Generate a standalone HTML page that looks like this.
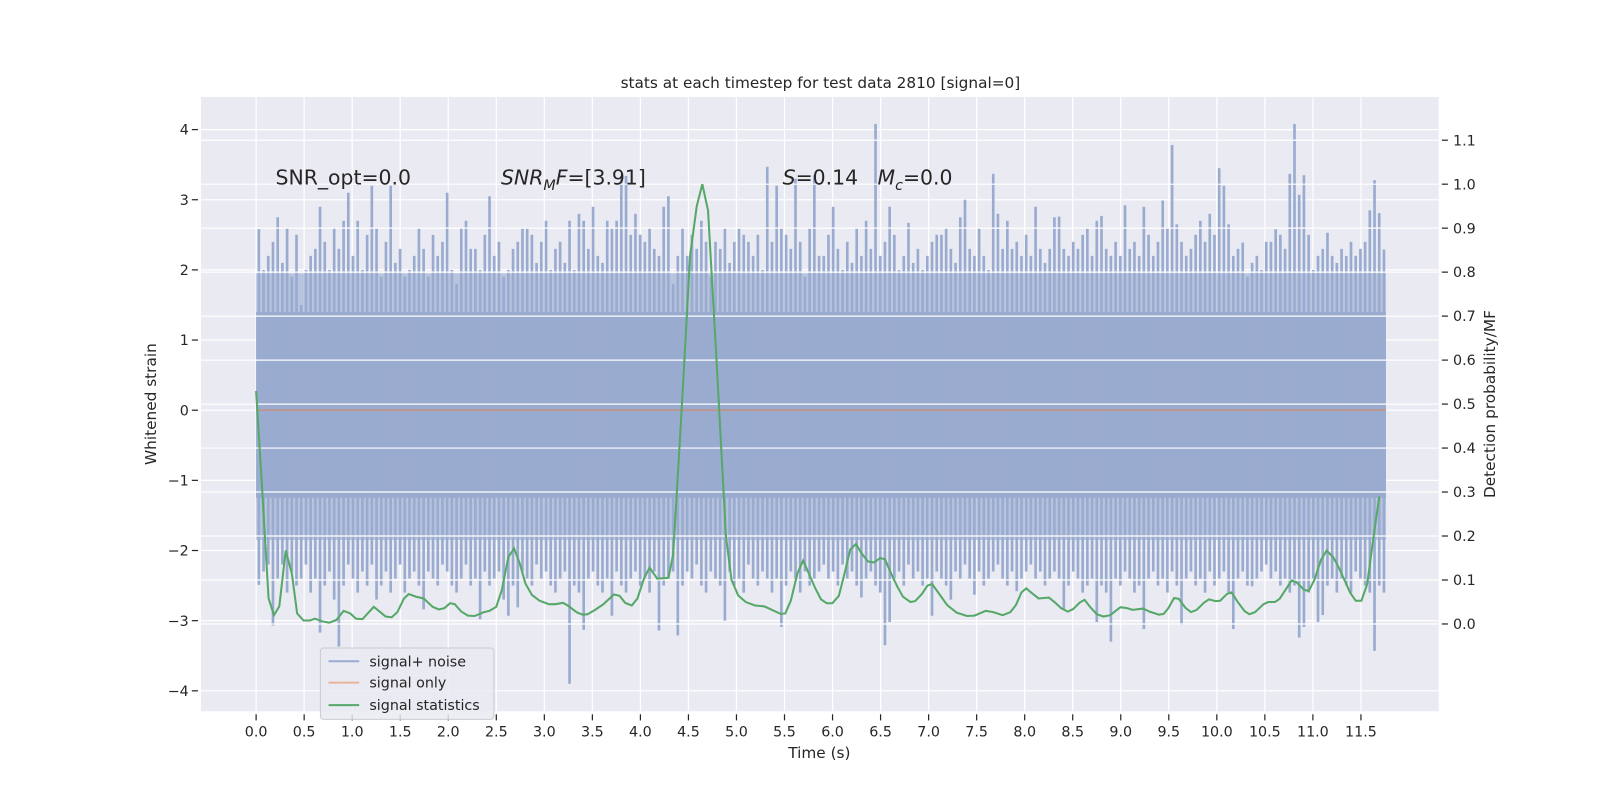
<!DOCTYPE html>
<html><head><meta charset="utf-8"><style>
html,body{margin:0;padding:0;background:#fff;width:1600px;height:800px;overflow:hidden;}
svg{display:block;}
svg text{font-family:"DejaVu Sans","Liberation Sans",sans-serif;fill:#262626;}
</style></head>
<body>
<svg id="chart" width="1600" height="800" viewBox="0 0 1600 800" xmlns="http://www.w3.org/2000/svg">
<rect x="0" y="0" width="1600" height="800" fill="#fff"/>
<g transform="scale(1.0204)">
<rect x="197" y="95" width="1213" height="602" fill="#eaeaf2"/>
<g id="gridL"></g>
<g id="gridX"></g>
<g id="noise"></g>
<line id="sigOnly" stroke="#dd8452" stroke-opacity="0.6" stroke-width="1.5"/>
<g id="gridR"></g>
<polyline id="stat" fill="none" stroke="#55a868" stroke-width="2"/>
<g id="axes"></g>
<text x="804" y="86" font-size="15" text-anchor="middle">stats at each timestep for test data 2810 [signal=0]</text>
<text x="270" y="181" font-size="20">SNR_opt=0.0</text>
<text x="491" y="181" font-size="20"><tspan font-style="italic">SNR</tspan><tspan font-style="italic" font-size="14" dy="5">M</tspan><tspan font-style="italic" dy="-5">F</tspan>=[3.91]</text>
<text x="767" y="181" font-size="20"><tspan font-style="italic">S</tspan>=0.14</text>
<text x="860" y="181" font-size="20"><tspan font-style="italic">M</tspan><tspan font-style="italic" font-size="14" dy="5">c</tspan><tspan dy="-5">=0.0</tspan></text>
<text x="803" y="743" font-size="15" text-anchor="middle">Time (s)</text>
<text x="153" y="396" font-size="15" text-anchor="middle" transform="rotate(-90 153 396)">Whitened strain</text>
<text x="1465" y="396" font-size="15" text-anchor="middle" transform="rotate(-90 1465 396)">Detection probability/MF</text>
<g>
<rect x="314" y="635" width="170" height="70" rx="3" fill="#eaeaf2" fill-opacity="0.85" stroke="#cccccc"/>
<line x1="322" y1="648" x2="352" y2="648" stroke="#9aabd0" stroke-width="2"/>
<text x="362" y="653" font-size="14">signal+ noise</text>
<line x1="322" y1="669" x2="352" y2="669" stroke="#e8b49a" stroke-width="2"/>
<text x="362" y="674" font-size="14">signal only</text>
<line x1="322" y1="691" x2="352" y2="691" stroke="#55a868" stroke-width="2"/>
<text x="362" y="696" font-size="14">signal statistics</text>
</g>
</g>
</svg>
<script>
const noiseStep = 0.049;
const noiseTop = [
2.58,2.0,2.2,2.4,2.75,2.1,2.6,1.9,2.5,1.5,
2.0,2.2,2.3,2.9,2.4,2.0,2.6,2.3,2.7,3.1,
2.2,2.7,2.0,2.5,3.2,2.6,1.9,2.4,3.2,2.1,
2.3,1.9,2.0,2.2,2.6,2.3,1.9,2.5,2.2,2.4,
3.1,2.0,1.8,2.6,2.7,2.3,2.3,2.0,2.5,3.05,
2.2,2.4,1.9,2.0,2.3,2.4,2.6,2.6,2.5,2.1,
2.4,2.7,2.0,2.3,2.4,2.1,2.7,2.0,2.8,2.7,
2.3,2.9,2.2,2.1,2.7,2.6,2.7,3.34,3.34,2.5,
2.8,2.5,2.4,2.6,2.3,2.2,2.9,3.05,1.8,2.2,
2.6,2.2,2.5,2.3,2.7,2.4,1.9,2.4,2.3,2.6,
2.1,2.4,2.6,2.5,2.4,2.2,2.5,2.0,3.47,2.4,
3.2,2.6,2.5,2.3,3.3,2.4,1.9,2.6,3.35,2.2,
2.2,2.5,2.9,2.3,2.0,2.4,2.1,2.6,2.2,2.7,
2.3,4.08,2.2,2.4,2.9,2.5,2.0,2.2,2.67,2.1,
2.3,2.0,2.2,2.4,2.5,2.5,2.6,2.3,2.1,2.75,
3.0,2.3,2.2,2.6,2.2,2.0,3.37,2.8,2.3,2.7,
2.3,2.4,2.2,2.5,2.2,2.9,2.3,2.1,2.3,2.75,
2.76,2.3,2.2,2.4,2.3,2.5,2.6,2.2,2.7,2.77,
2.3,2.2,2.4,2.2,2.92,2.3,2.4,2.2,2.9,2.5,
2.2,2.4,2.99,2.6,3.78,2.65,2.4,2.2,2.3,2.5,
2.7,2.4,2.8,2.5,3.45,3.2,2.65,2.2,2.3,2.39,
1.9,2.1,2.2,2.0,2.4,2.4,2.58,2.5,2.3,3.37,
4.08,3.07,3.35,2.5,2.0,2.2,2.3,2.53,2.2,2.1,
2.3,2.2,2.4,2.2,2.3,2.4,2.85,3.28,2.81,2.29];
const noiseBottom = [
-2.49,-2.3,-2.2,-3.07,-2.4,-2.2,-2.6,-2.3,-2.5,-2.4,
-2.2,-2.6,-2.4,-3.17,-2.5,-2.3,-2.7,-3.37,-2.5,-2.2,
-2.4,-2.6,-2.3,-2.5,-2.2,-2.7,-2.5,-2.3,-2.6,-2.4,
-2.2,-2.6,-2.4,-2.3,-2.5,-2.84,-2.3,-2.4,-2.5,-2.2,
-2.3,-2.5,-2.6,-2.4,-2.2,-2.5,-2.4,-2.98,-2.3,-2.5,
-2.4,-2.3,-2.7,-2.93,-2.5,-2.81,-2.3,-2.4,-2.5,-2.2,
-2.4,-2.3,-2.5,-2.6,-2.4,-2.3,-3.9,-2.5,-2.6,-3.13,
-2.4,-2.3,-2.5,-2.6,-2.4,-2.93,-2.3,-2.5,-2.6,-2.4,
-2.3,-2.5,-2.4,-2.6,-2.3,-3.14,-2.5,-2.4,-2.3,-3.21,
-2.5,-2.3,-2.4,-2.2,-2.5,-2.6,-2.3,-2.4,-2.5,-3.0,
-2.3,-2.5,-2.4,-2.6,-2.2,-2.4,-2.5,-2.3,-2.4,-2.6,
-2.4,-3.09,-2.5,-2.3,-2.4,-2.6,-2.3,-2.5,-2.4,-2.3,
-2.2,-2.4,-2.3,-2.5,-2.2,-2.4,-2.3,-2.5,-2.67,-2.4,
-2.3,-2.5,-2.6,-3.35,-3.02,-2.4,-2.3,-2.5,-2.2,-2.4,
-2.3,-2.5,-2.4,-2.93,-2.3,-2.4,-2.5,-2.7,-2.3,-2.4,
-2.2,-2.4,-2.63,-2.3,-2.5,-2.4,-2.3,-2.2,-2.4,-2.5,
-2.3,-2.58,-2.4,-2.3,-2.2,-2.4,-2.3,-2.5,-2.4,-2.3,
-2.4,-2.83,-2.5,-2.3,-2.4,-2.6,-2.5,-2.4,-3.02,-2.5,
-2.6,-3.3,-2.4,-2.5,-2.3,-2.4,-2.6,-2.5,-3.12,-2.4,
-2.3,-2.5,-2.4,-2.6,-2.3,-2.5,-3.06,-2.4,-2.3,-2.5,
-2.4,-2.6,-2.3,-2.5,-2.4,-2.3,-2.6,-3.12,-2.4,-2.3,
-2.5,-2.51,-2.4,-2.3,-2.2,-2.4,-2.3,-2.5,-2.4,-2.6,
-2.5,-3.24,-3.09,-2.6,-2.4,-3.02,-2.92,-2.5,-2.4,-2.6,
-2.4,-2.5,-2.6,-2.3,-2.4,-2.5,-2.6,-3.43,-2.5,-2.6];
const noiseSolidBand = [-1.25, 1.4];
const noiseDenseBand = [-1.85, 1.95];
const signalOnly = [0, 0];
const statT = [0,0.056,0.130,0.186,0.241,0.308,0.372,0.427,0.494,0.559,0.613,0.686,0.761,0.835,0.911,0.98,1.039,1.107,1.225,1.348,1.411,1.47,1.539,1.588,1.666,1.744,1.838,1.901,1.96,2.019,2.068,2.136,2.205,2.274,2.372,2.43,2.499,2.558,2.626,2.685,2.744,2.803,2.871,2.95,3.048,3.116,3.195,3.244,3.342,3.401,3.45,3.528,3.616,3.724,3.783,3.842,3.91,3.969,4.038,4.096,4.175,4.292,4.341,4.43,4.518,4.586,4.645,4.704,4.792,4.89,4.949,5.018,5.096,5.194,5.292,5.39,5.459,5.508,5.566,5.635,5.694,5.753,5.821,5.88,5.939,5.998,6.066,6.125,6.184,6.243,6.301,6.37,6.429,6.497,6.546,6.615,6.674,6.733,6.811,6.86,6.929,6.987,7.036,7.105,7.193,7.291,7.399,7.477,7.595,7.673,7.771,7.85,7.909,7.967,8.016,8.075,8.144,8.252,8.31,8.379,8.448,8.506,8.575,8.624,8.683,8.751,8.82,8.889,8.996,9.065,9.124,9.232,9.3,9.398,9.447,9.496,9.555,9.604,9.673,9.731,9.79,9.869,9.918,9.986,10.035,10.104,10.153,10.221,10.29,10.339,10.398,10.486,10.535,10.604,10.653,10.78,10.829,10.907,10.956,11.015,11.084,11.143,11.211,11.27,11.329,11.388,11.446,11.505,11.564,11.633,11.691];
const statV = [0.53,0.33,0.058,0.02,0.04,0.167,0.115,0.024,0.008,0.008,0.012,0.006,0.003,0.009,0.03,0.024,0.012,0.011,0.039,0.017,0.015,0.027,0.058,0.068,0.062,0.058,0.039,0.033,0.036,0.047,0.045,0.028,0.019,0.018,0.027,0.03,0.039,0.077,0.152,0.172,0.138,0.092,0.066,0.053,0.045,0.045,0.048,0.042,0.026,0.021,0.022,0.032,0.045,0.067,0.064,0.048,0.042,0.058,0.104,0.128,0.103,0.105,0.158,0.49,0.84,0.95,1.0,0.94,0.60,0.2,0.10,0.065,0.05,0.042,0.04,0.03,0.023,0.024,0.053,0.115,0.144,0.115,0.081,0.056,0.047,0.047,0.064,0.115,0.169,0.182,0.161,0.142,0.14,0.15,0.147,0.112,0.085,0.062,0.05,0.052,0.068,0.087,0.091,0.07,0.043,0.026,0.018,0.019,0.03,0.027,0.02,0.027,0.043,0.072,0.081,0.07,0.058,0.06,0.05,0.036,0.028,0.034,0.049,0.055,0.038,0.022,0.017,0.02,0.038,0.036,0.032,0.035,0.028,0.021,0.023,0.036,0.059,0.057,0.037,0.027,0.032,0.049,0.056,0.052,0.053,0.068,0.072,0.049,0.029,0.022,0.027,0.045,0.05,0.05,0.057,0.099,0.095,0.078,0.075,0.1,0.146,0.167,0.152,0.128,0.1,0.071,0.053,0.053,0.09,0.2,0.29];
const xTicks = [0,0.5,1,1.5,2,2.5,3,3.5,4,4.5,5,5.5,6,6.5,7,7.5,8,8.5,9,9.5,10,10.5,11,11.5];
const xTickLabels = ["0.0","0.5","1.0","1.5","2.0","2.5","3.0","3.5","4.0","4.5","5.0","5.5","6.0","6.5","7.0","7.5","8.0","8.5","9.0","9.5","10.0","10.5","11.0","11.5"];
const yLeftTicks = [4,3,2,1,0,-1,-2,-3,-4];
const yLeftLabels = ["4","3","2","1","0","\u22121","\u22122","\u22123","\u22124"];
const yRightTicks = [1.1,1.0,0.9,0.8,0.7,0.6,0.5,0.4,0.3,0.2,0.1,0.0];
const yRightLabels = ["1.1","1.0","0.9","0.8","0.7","0.6","0.5","0.4","0.3","0.2","0.1","0.0"];

const NS = "http://www.w3.org/2000/svg";
const X0 = 197, X1 = 1410, Y0 = 95, Y1 = 697;
function xs(t){ return 251 + t * 94.15; }
function yl(v){ return 402 - v * 68.75; }
function yr(p){ return 611.5 - p * 431; }
function mk(tag, attrs, parent){
  const e = document.createElementNS(NS, tag);
  for (const k in attrs) e.setAttribute(k, attrs[k]);
  parent.appendChild(e);
  return e;
}
const gridL = document.getElementById('gridL');
const gridX = document.getElementById('gridX');
const gridR = document.getElementById('gridR');
const axes = document.getElementById('axes');
const noise = document.getElementById('noise');

xTicks.forEach((t, i) => {
  const x = xs(t);
  const g = mk('line', {x1:x, x2:x, y1:Y0, y2:Y1, stroke:'#fff', 'stroke-width':1.2}, gridX);
  
  
  const tk = mk('line', {x1:x, x2:x, y1:Y1+3, y2:Y1+9, stroke:'#262626', 'stroke-width':1.2}, axes);
  
  
  const lb = mk('text', {x:x, y:Y1+25, 'font-size':14, 'text-anchor':'middle'}, axes);
  lb.textContent = xTickLabels[i];
  
  
});
yLeftTicks.forEach((v, i) => {
  const y = yl(v);
  const g = mk('line', {x1:X0, x2:X1, y1:y, y2:y, stroke:'#fff', 'stroke-width':1.2}, gridL);
  
  
  const tk = mk('line', {x1:X0-9, x2:X0-3, y1:y, y2:y, stroke:'#262626', 'stroke-width':1.2}, axes);
  
  
  const lb = mk('text', {x:X0-12, y:y+5, 'font-size':14, 'text-anchor':'end'}, axes);
  lb.textContent = yLeftLabels[i];
  
  
});
yRightTicks.forEach((p, i) => {
  const y = yr(p);
  const g = mk('line', {x1:X0, x2:X1, y1:y, y2:y, stroke:'#fff', 'stroke-width':1.2}, gridR);
  
  
  const tk = mk('line', {x1:X1+3, x2:X1+9, y1:y, y2:y, stroke:'#262626', 'stroke-width':1.2}, axes);
  
  
  const lb = mk('text', {x:X1+14, y:y+5, 'font-size':14, 'text-anchor':'start'}, axes);
  lb.textContent = yRightLabels[i];
  
  
});

// noise
const tEnd = noiseTop.length * noiseStep;
const dense = mk('rect', {x:xs(0), width:xs(tEnd)-xs(0), y:yl(noiseDenseBand[1]), height:yl(noiseDenseBand[0])-yl(noiseDenseBand[1]), fill:'#9aabd0', 'fill-opacity':0.62}, noise);


const solid = mk('rect', {x:xs(0), width:xs(tEnd)-xs(0), y:yl(noiseSolidBand[1]), height:yl(noiseSolidBand[0])-yl(noiseSolidBand[1]), fill:'#9aabd0'}, noise);


const bw = xs(noiseStep) - xs(0);
noiseTop.forEach((v, i) => {
  const x = xs(i * noiseStep) + bw * 0.3;
  const b = mk('rect', {x:x, width:2.6, y:yl(v), height:yl(noiseBottom[i]) - yl(v), fill:'#9aabd0'}, noise);
  
  
});
const so = document.getElementById('sigOnly');
so.setAttribute('x1', xs(0)); so.setAttribute('x2', xs(tEnd));
so.setAttribute('y1', yl(signalOnly[0])); so.setAttribute('y2', yl(signalOnly[1]));

document.getElementById('stat').setAttribute('points', statT.map((t, i) => xs(t).toFixed(1) + ',' + yr(statV[i]).toFixed(1)).join(' '));
</script>
</body></html>
